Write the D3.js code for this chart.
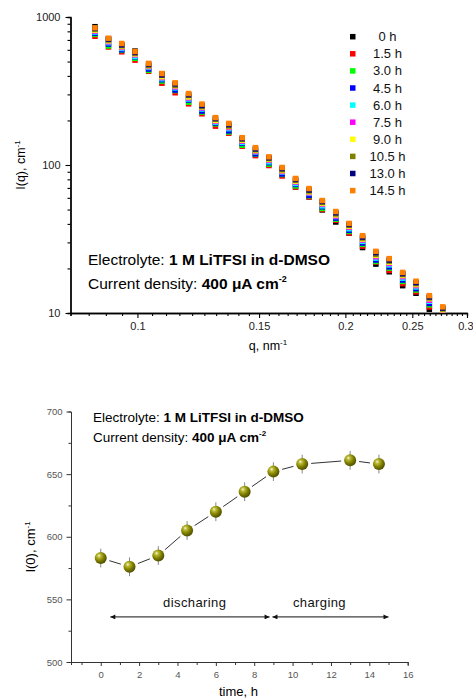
<!DOCTYPE html>
<html><head><meta charset="utf-8">
<script src="https://cdn.jsdelivr.net/npm/d3@7"></script>
<style>
body{margin:0;background:#fff}
svg{display:block}
text{font-family:Arial,"Liberation Sans",sans-serif}
</style>
</head><body>
<svg id="c" width="473" height="698"></svg>
<script>
// ---------- DATA: top panel (SANS curves, I(q) vs q) ----------
const qValues = [0.0868,0.0908,0.0949,0.0992,0.1038,0.1085,0.1134,0.1186,0.1240,0.1297,0.1356,0.1418,0.1482,0.1550,0.1620,0.1694,0.1772,0.1852,0.1937,0.2025,0.2118,0.2214,0.2315,0.2421,0.2531,0.2646,0.2767];
const seriesLabels = ["0 h","1.5 h","3.0 h","4.5 h","6.0 h","7.5 h","9.0 h","10.5 h","13.0 h","14.5 h"];
const I_0h   = [860,709,626,589,456.5,412,326.6,286,231.4,196,168.5,140,117.4,100.7,86.3,71.1,60.9,49.7,41.2,34.7,27.7,21.4,19.0,15.3,13.6,10.6,9.25];
const I_1p5h = [741,627,582,511,430,357,307.7,259,221.9,183,164,134,115.7,99.2,84.3,71.1,60.9,50.1,42.3,34.7,28.3,22.1,19.4,15.8,13.9,11.0,9.43];
const I_3h   = [763,637,595,526,436,369,318.5,265.8,227.6,189.5,167,136,118.3,101.4,86.3,72.2,61.9,50.9,43.0,35.6,29.1,22.3,20.1,16.35,14.3,11.35,9.7];
const I_4p5h = [777,656,600,537,445,377,321,274.8,231.4,192.1,170,140,119.1,103.7,87.0,73.9,62.4,52.2,43.8,36.2,29.7,22.8,20.5,16.7,14.6,11.6,9.86];
const I_6h   = [791,670.5,613,540.6,456.5,383,332,279.3,239,194.7,176,142,122.5,105.2,89.6,75.0,64.35,53.0,44.85,37.1,30.5,23.5,21.15,17.2,15.0,12.0,10.1];
const I_7p5h = [803,680,622,555,462,389,337,283.8,242.8,197.3,179,145,123.4,107.5,90.3,76.7,64.85,54.2,45.2,37.9,31.1,24.0,21.6,17.6,15.3,12.2,10.35];
const I_9h   = [814,690,631,562.8,468.3,394.7,342.8,288.3,246.6,199.9,182,147,125.1,109.0,91.6,77.8,65.8,55.0,46.0,38.5,31.6,24.5,22.0,17.9,15.56,12.5,10.5];
const I_10p5h= [825,699.6,639.8,570.2,471.3,403.4,345.5,295,248.5,203.8,183.5,149,126.8,110.5,92.9,78.9,66.8,55.9,46.7,39.1,32.1,24.9,22.4,18.2,15.8,12.65,10.65];
const I_13h  = [839.6,709.3,648.7,576.1,480.1,406.3,353.6,298.6,252.3,206.4,187.4,151,128.5,112.0,94.6,80.0,67.8,56.7,47.6,39.7,32.6,25.6,22.8,18.45,16.06,12.85,10.8];
const I_14p5h= [845,719,662,585,486,415,359,304,258,209,191,153,131,113.5,96.2,81.1,69.3,57.5,48.5,40.3,33.3,26.1,23.3,18.8,16.4,13.1,11.0];
const topSeries = [I_0h,I_1p5h,I_3h,I_4p5h,I_6h,I_7p5h,I_9h,I_10p5h,I_13h,I_14p5h];
const xMajorTicks = [0.1,0.15,0.2,0.25,0.3];
const yMajorTicks = [10,100,1000];

// ---------- DATA: bottom panel (I(0) vs time) ----------
const times = [0,1.5,3,4.5,6,7.5,9,10.5,13,14.5];
const I0 = [583,576,585,605,620,636,652,658,661,658];
const I0err = [7.5,7.5,7.5,7.5,7.5,7.5,7.5,7.5,7.5,7.5];
const tMajorTicks = [0,2,4,6,8,10,12,14,16];
const i0MajorTicks = [500,550,600,650,700];

// ---------- STYLE ----------
const colors = ["#000000","#ff0000","#00ff00","#0000ff","#00ffff","#ff00ff","#ffff00","#808000","#000080","#ff8000"];

const svg = d3.select("#c");
const defs = svg.append("defs");

// ===== TOP PANEL =====
const x = d3.scaleLog().domain([0.08,0.3]).range([70.5,467]);
const y = d3.scaleLog().domain([10,1000]).range([313,17]);

defs.append("clipPath").attr("id","clipTop").append("rect")
  .attr("x",70.5).attr("y",15).attr("width",400).attr("height",298);

const gTop = svg.append("g");
const xMinor = d3.range(16,61).map(k=>+(k*0.005).toFixed(3)).filter(v=>!xMajorTicks.some(m=>Math.abs(m-v)<1e-6));
const yMinor = [];
[10,100].forEach(d=>{for(let k=2;k<=9;k++) yMinor.push(k*d);});

function styleAxis(g, col, fs){
  g.select(".domain").attr("stroke",col).attr("stroke-width",1.3);
  g.selectAll(".tick line").attr("stroke",col).attr("stroke-width",1.1);
  g.selectAll(".tick text").attr("fill","#222").style("font-size",fs+"px").style("font-family","Arial, 'Liberation Sans', sans-serif");
}

gTop.append("g").attr("transform","translate(0,313)")
  .call(d3.axisBottom(x).tickValues(xMinor).tickSize(3).tickFormat(""))
  .call(g=>styleAxis(g,"#000",11));
gTop.append("g").attr("transform","translate(0,313)")
  .call(d3.axisBottom(x).tickValues(xMajorTicks).tickSize(5).tickSizeOuter(0).tickPadding(4).tickFormat(d3.format("")))
  .call(g=>styleAxis(g,"#000",11))
  .call(g=>g.selectAll(".tick text").filter(d=>d===0.3).attr("text-anchor","end").attr("x",6));
gTop.append("g").attr("transform","translate(70.5,0)")
  .call(d3.axisLeft(y).tickValues(yMinor).tickSize(3).tickFormat(""))
  .call(g=>styleAxis(g,"#000",11));
gTop.append("g").attr("transform","translate(70.5,0)")
  .call(d3.axisLeft(y).tickValues(yMajorTicks).tickSize(5).tickSizeOuter(0).tickPadding(5).tickFormat(d3.format("")))
  .call(g=>styleAxis(g,"#000",11));

const ms = 5.5;
const gData = gTop.append("g").attr("clip-path","url(#clipTop)");
topSeries.forEach((s,si)=>{
  gData.append("g").selectAll("rect").data(s.map((v,i)=>({q:qValues[i],v})))
    .join("rect")
    .attr("x",d=>x(d.q)-ms/2).attr("y",d=>y(d.v)-ms/2)
    .attr("width",ms).attr("height",ms)
    .attr("fill",colors[si]);
});

const leg = gTop.append("g");
seriesLabels.forEach((lab,i)=>{
  const cy = 36.7 + 17.1*i;
  leg.append("rect").attr("x",350).attr("y",cy-2.75).attr("width",5.5).attr("height",5.5).attr("fill",colors[i]);
  leg.append("text").attr("x",387.5).attr("y",cy+4.5).attr("text-anchor","middle")
    .style("font-size","13px").attr("fill","#111").text(lab);
});

const a1 = gTop.append("text").attr("x",88).attr("y",265).style("font-size","15.5px").attr("fill","#000");
a1.append("tspan").text("Electrolyte: ");
a1.append("tspan").attr("font-weight","bold").text("1 M LiTFSI in d-DMSO");
const a2 = gTop.append("text").attr("x",88).attr("y",289).style("font-size","15.5px").attr("fill","#000");
a2.append("tspan").text("Current density: ");
a2.append("tspan").attr("font-weight","bold").text("400 \u03bcA cm");
a2.append("tspan").attr("font-weight","bold").attr("dy",-7).style("font-size","9px").text("-2");

const yt = gTop.append("text").attr("transform","translate(24.5,165) rotate(-90)").attr("text-anchor","middle").style("font-size","12.5px");
yt.append("tspan").text("I(q), cm");
yt.append("tspan").attr("dy",-5).style("font-size","8px").text("-1");
const xt = gTop.append("text").attr("x",268).attr("y",350).attr("text-anchor","middle").style("font-size","12.5px");
xt.append("tspan").text("q, nm");
xt.append("tspan").attr("dy",-5).style("font-size","8px").text("-1");

// ===== BOTTOM PANEL =====
const xb = d3.scaleLinear().domain([-1.55,16]).range([71,407.7]);
const yb = d3.scaleLinear().domain([500,700]).range([662,411.5]);
const gB = svg.append("g");

function styleAxisB(g){
  g.select(".domain").attr("stroke","#333").attr("stroke-width",1);
  g.selectAll(".tick line").attr("stroke","#333").attr("stroke-width",1);
  g.selectAll(".tick text").attr("fill","#555").style("font-size","9.5px").style("font-family","Arial, 'Liberation Sans', sans-serif");
}
gB.append("g").attr("transform","translate(0,662)")
  .call(d3.axisBottom(xb).tickValues(d3.range(-1,16,2)).tickSize(3).tickFormat(""))
  .call(styleAxisB);
gB.append("g").attr("transform","translate(0,662)")
  .call(d3.axisBottom(xb).tickValues(tMajorTicks).tickSize(4).tickSizeOuter(0).tickPadding(5))
  .call(styleAxisB);
gB.append("g").attr("transform","translate(71,0)")
  .call(d3.axisLeft(yb).tickValues(d3.range(525,700,50)).tickSize(2.5).tickFormat(""))
  .call(styleAxisB);
gB.append("g").attr("transform","translate(71,0)")
  .call(d3.axisLeft(yb).tickValues(i0MajorTicks).tickSize(4.5).tickSizeOuter(0).tickPadding(4))
  .call(styleAxisB);

const grad = defs.append("radialGradient").attr("id","sphere")
  .attr("cx","38%").attr("cy","35%").attr("r","65%").attr("fx","35%").attr("fy","30%");
grad.append("stop").attr("offset","0%").attr("stop-color","#f8f8e0");
grad.append("stop").attr("offset","22%").attr("stop-color","#bdbd3a");
grad.append("stop").attr("offset","60%").attr("stop-color","#828200");
grad.append("stop").attr("offset","100%").attr("stop-color","#4f4f00");

const pts = times.map((t,i)=>({t,v:I0[i],e:I0err[i],px:xb(t),py:yb(I0[i])}));
const R = 6, gap = 3;
for(let i=0;i<pts.length-1;i++){
  const a=pts[i], b=pts[i+1];
  const dx=b.px-a.px, dy=b.py-a.py, L=Math.hypot(dx,dy);
  const ux=dx/L, uy=dy/L, off=R+gap;
  gB.append("line")
    .attr("x1",a.px+ux*off).attr("y1",a.py+uy*off)
    .attr("x2",b.px-ux*off).attr("y2",b.py-uy*off)
    .attr("stroke","#333").attr("stroke-width",1);
}
gB.append("g").selectAll("line").data(pts).join("line")
  .attr("x1",d=>d.px).attr("x2",d=>d.px)
  .attr("y1",d=>yb(d.v+d.e)).attr("y2",d=>yb(d.v-d.e))
  .attr("stroke","#888").attr("stroke-width",1);
gB.append("g").selectAll("circle").data(pts).join("circle")
  .attr("cx",d=>d.px).attr("cy",d=>d.py).attr("r",R)
  .attr("fill","url(#sphere)");

defs.append("marker").attr("id","ah").attr("viewBox","0 0 10 10").attr("refX",10).attr("refY",5)
  .attr("markerWidth",7).attr("markerHeight",5).attr("orient","auto-start-reverse").attr("markerUnits","userSpaceOnUse")
  .append("path").attr("d","M0,0 L10,5 L0,10 Z").attr("fill","#111");
const arrowY = yb(536);
gB.append("line").attr("x1",xb(0.5)).attr("x2",xb(8.8)).attr("y1",arrowY).attr("y2",arrowY)
  .attr("stroke","#111").attr("stroke-width",1).attr("marker-start","url(#ah)").attr("marker-end","url(#ah)");
gB.append("line").attr("x1",xb(8.95)).attr("x2",xb(15)).attr("y1",arrowY).attr("y2",arrowY)
  .attr("stroke","#111").attr("stroke-width",1).attr("marker-start","url(#ah)").attr("marker-end","url(#ah)");
gB.append("text").attr("x",xb(4.9)).attr("y",yb(544)).attr("text-anchor","middle").style("font-size","13px").style("letter-spacing","0.4px").attr("fill","#111").text("discharing");
gB.append("text").attr("x",xb(11.4)).attr("y",yb(544)).attr("text-anchor","middle").style("font-size","13px").style("letter-spacing","0.4px").attr("fill","#111").text("charging");

const b1 = gB.append("text").attr("x",93).attr("y",422).style("font-size","13.5px").attr("fill","#000");
b1.append("tspan").text("Electrolyte: ");
b1.append("tspan").attr("font-weight","bold").text("1 M LiTFSI in d-DMSO");
const b2 = gB.append("text").attr("x",93).attr("y",442).style("font-size","13.5px").attr("fill","#000");
b2.append("tspan").text("Current density: ");
b2.append("tspan").attr("font-weight","bold").text("400 \u03bcA cm");
b2.append("tspan").attr("font-weight","bold").attr("dy",-6).style("font-size","8px").text("-2");

const ybt = gB.append("text").attr("transform","translate(34.5,547) rotate(-90)").attr("text-anchor","middle").style("font-size","13px");
ybt.append("tspan").text("I(0), cm");
ybt.append("tspan").attr("dy",-5).style("font-size","8px").text("-1");
gB.append("text").attr("x",238.5).attr("y",696).attr("text-anchor","middle").style("font-size","13px").text("time, h");
</script>
</body></html>
